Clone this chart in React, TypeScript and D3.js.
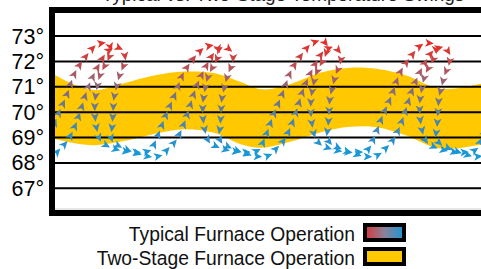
import React, { useEffect, useRef } from 'react';
import * as d3 from 'd3';

// temperature grid
const TEMP_TICKS = [67, 68, 69, 70, 71, 72, 73];

// two-stage furnace band (time in minutes)
const BAND_TIME = [0, 3.33, 6.67, 11.67, 16.67, 21.67, 26.67, 30.83, 34.5, 39.17, 44.17, 49.17, 53.83, 58.33, 64.17, 71, 73.33];
const BAND_UPPER = [71.46, 71.07, 70.87, 71.15, 71.45, 71.6, 71.53, 71.2, 70.9, 71.1, 71.55, 71.75, 71.7, 71.46, 70.93, 71.12, 71.3];
const BAND_LOWER = [68.94, 68.77, 68.7, 68.87, 69.15, 69.33, 69.18, 68.75, 68.6, 68.83, 69.2, 69.42, 69.4, 69.1, 68.57, 68.72, 68.8];

// typical furnace, first looping trace
const TRACE_A_TIME = [
  -8.0, -6.0, -4.0,
  -2.17, -1.0, 0.33, 2.0, 3.33, 5.33, 6.67, 8.0, 9.0, 9.33, 9.0, 8.33, 7.5, 7.0, 6.67, 6.67, 7.0, 7.5, 8.33, 10.0, 12.0, 14.0,
  15.83, 17.0, 18.33, 20.0, 21.33, 23.33, 24.67, 26.0, 27.0, 27.33, 27.0, 26.33, 25.5, 25.0, 24.67, 24.67, 25.0, 25.5, 26.33, 28.0, 30.0, 32.0,
  33.83, 35.0, 36.33, 38.0, 39.33, 41.33, 42.67, 44.0, 45.0, 45.33, 45.0, 44.33, 43.5, 43.0, 42.67, 42.67, 43.0, 43.5, 44.33, 46.0, 48.0, 50.0,
  52.0, 53.17, 54.5, 56.17, 57.5, 59.5, 60.83, 62.17, 63.17, 63.5, 63.17, 62.5, 61.67, 61.17, 60.83, 60.83, 61.17, 61.67, 62.5, 64.17, 66.17, 68.17,
  70.0, 71.17, 72.5, 74.17,
];
const TRACE_A_TEMP = [
  68.55, 68.45, 68.42,
  68.5, 69.0, 69.8, 70.7, 71.55, 72.25, 72.6, 72.72, 72.66, 72.42, 72.15, 71.85, 71.45, 70.95, 70.45, 69.85, 69.3, 68.92, 68.72, 68.55, 68.45, 68.42,
  68.5, 69.0, 69.8, 70.7, 71.5, 72.18, 72.5, 72.62, 72.58, 72.36, 72.1, 71.8, 71.4, 70.9, 70.4, 69.8, 69.28, 68.9, 68.72, 68.55, 68.45, 68.42,
  68.5, 69.0, 69.85, 70.78, 71.62, 72.33, 72.68, 72.8, 72.74, 72.5, 72.2, 71.9, 71.5, 71.0, 70.5, 69.9, 69.32, 68.93, 68.72, 68.55, 68.45, 68.42,
  68.5, 69.0, 69.8, 70.7, 71.55, 72.25, 72.6, 72.72, 72.66, 72.42, 72.15, 71.85, 71.45, 70.95, 70.45, 69.85, 69.3, 68.92, 68.72, 68.55, 68.45, 68.42,
  68.5, 69.0, 69.8, 70.7,
];

// typical furnace, second looping trace
const TRACE_B_TIME = [
  -8.17, -6.33, -4.33, -2.17, -0.33,
  0.83, 2.17, 3.33, 4.17, 5.5, 7.17, 8.83, 10.33, 11.17, 11.67, 11.5, 10.83, 10.33, 9.83, 9.67, 9.5, 9.33, 9.83, 11.67, 13.67, 15.83, 17.67,
  18.83, 20.17, 21.33, 22.17, 23.5, 25.17, 26.83, 28.33, 29.17, 29.67, 29.5, 28.83, 28.33, 27.83, 27.67, 27.5, 27.33, 27.83, 29.67, 31.67, 33.83, 35.67,
  36.83, 38.17, 39.33, 40.17, 41.5, 43.17, 44.83, 46.33, 47.17, 47.67, 47.5, 46.83, 46.33, 45.83, 45.67, 45.5, 45.33, 45.83, 47.67, 49.67, 51.83, 53.67,
  55.0, 56.33, 57.5, 58.33, 59.67, 61.33, 63.0, 64.5, 65.33, 65.83, 65.67, 65.0, 64.5, 64.0, 63.83, 63.67, 63.5, 64.0, 65.83, 67.83, 70.0, 71.83,
];
const TRACE_B_TEMP = [
  68.8, 68.55, 68.38, 68.25, 68.3,
  68.55, 68.9, 69.45, 70.0, 70.96, 71.8, 72.4, 72.55, 72.45, 72.2, 71.9, 71.5, 71.07, 70.55, 69.96, 69.41, 69.02, 68.8, 68.55, 68.38, 68.25, 68.3,
  68.55, 68.9, 69.45, 70.0, 70.96, 71.8, 72.4, 72.55, 72.45, 72.2, 71.9, 71.5, 71.07, 70.55, 69.96, 69.41, 69.02, 68.8, 68.55, 68.38, 68.25, 68.3,
  68.55, 68.9, 69.45, 70.0, 70.96, 71.8, 72.4, 72.55, 72.45, 72.2, 71.9, 71.5, 71.07, 70.55, 69.96, 69.41, 69.02, 68.8, 68.55, 68.38, 68.25, 68.3,
  68.55, 68.9, 69.45, 70.0, 70.96, 71.8, 72.4, 72.55, 72.45, 72.2, 71.9, 71.5, 71.07, 70.55, 69.96, 69.41, 69.02, 68.8, 68.55, 68.38, 68.25, 68.3,
];

const LEGEND = ['Typical Furnace Operation', 'Two-Stage Furnace Operation'];
const FONT = '"Liberation Sans", Arial, Helvetica, sans-serif';

const x = d3.scaleLinear().domain([0, 71]).range([55, 481]);
const y = d3.scaleLinear().domain([67, 73]).range([188.3, 36]);
const color = d3
  .scaleLinear<string>()
  .domain([68.4, 69.2, 70.2, 71.3, 72.6])
  .range(['#1798d8', '#3a8cc2', '#657a94', '#9e6270', '#e3302a'])
  .clamp(true);

const band = d3
  .area<number>()
  .x(i => x(BAND_TIME[i]))
  .y0(i => y(BAND_LOWER[i]))
  .y1(i => y(BAND_UPPER[i]))
  .curve(d3.curveCatmullRom);

const traceLine = (times: number[], temps: number[]) =>
  d3
    .line<number>()
    .x(i => x(times[i]))
    .y(i => y(temps[i]))
    .curve(d3.curveCatmullRom.alpha(0.5))(d3.range(times.length)) as string;

export default function App() {
  const arrowsRef = useRef<SVGGElement>(null);
  const pathA = useRef<SVGPathElement>(null);
  const pathB = useRef<SVGPathElement>(null);

  useEffect(() => {
    const g = d3.select(arrowsRef.current);
    g.selectAll('*').remove();
    [pathA, pathB].forEach(ref => {
      const node = ref.current;
      if (!node) return;
      const len = node.getTotalLength();
      for (let l = 3; l < len - 1; l += 10.5) {
        const p = node.getPointAtLength(l);
        const q = node.getPointAtLength(l + 1);
        const ang = (Math.atan2(q.y - p.y, q.x - p.x) * 180) / Math.PI;
        g.append('path')
          .attr('d', 'M4.6,0L-4,-4L-1.8,0L-4,4Z')
          .attr('transform', `translate(${p.x},${p.y}) rotate(${ang})`)
          .attr('fill', color(y.invert(p.y)));
      }
    });
  }, []);

  return (
    <svg width={481} height={269} style={{ position: 'fixed', left: 0, top: 0, background: '#fff' }}>
      <defs>
        <clipPath id="plot">
          <rect x={55} y={13} width={460} height={197} />
        </clipPath>
        <linearGradient id="typ" x1="0" x2="1" y1="0" y2="0">
          <stop offset="0" stopColor="#d9363a" />
          <stop offset="0.5" stopColor="#8a8199" />
          <stop offset="1" stopColor="#1a96d4" />
        </linearGradient>
      </defs>

      <text x={283} y={1} textAnchor="middle" fontFamily={FONT} fontSize={19} fill="#222">
        Typical vs. Two-Stage Temperature Swings
      </text>

      <g clipPath="url(#plot)">
        <path d={band(d3.range(BAND_TIME.length)) as string} fill="#ffc800" />
        {TEMP_TICKS.map(t => (
          <line key={t} x1={55} x2={481} y1={y(t)} y2={y(t)} stroke="#000" strokeWidth={2} />
        ))}
        <path ref={pathA} d={traceLine(TRACE_A_TIME, TRACE_A_TEMP)} fill="none" stroke="none" />
        <path ref={pathB} d={traceLine(TRACE_B_TIME, TRACE_B_TEMP)} fill="none" stroke="none" />
        <g ref={arrowsRef} />
        <line x1={55} x2={481} y1={209} y2={209} stroke="#ccc" strokeWidth={1} />
      </g>

      <rect x={52} y={10} width={460} height={203} fill="none" stroke="#000" strokeWidth={6} />

      {TEMP_TICKS.map(t => (
        <text key={t} x={44} y={y(t) + 7.5} textAnchor="end" fontFamily={FONT} fontSize={21.5} fill="#000">
          {`${t}°`}
        </text>
      ))}

      {LEGEND.map((label, i) => (
        <g key={label}>
          <text x={355} y={241 + i * 24} textAnchor="end" fontFamily={FONT} fontSize={19.3} fill="#111">
            {label}
          </text>
          <rect
            x={365}
            y={225 + i * 24}
            width={39}
            height={15}
            fill={i === 0 ? 'url(#typ)' : '#ffc800'}
            stroke="#000"
            strokeWidth={4}
          />
        </g>
      ))}
    </svg>
  );
}
